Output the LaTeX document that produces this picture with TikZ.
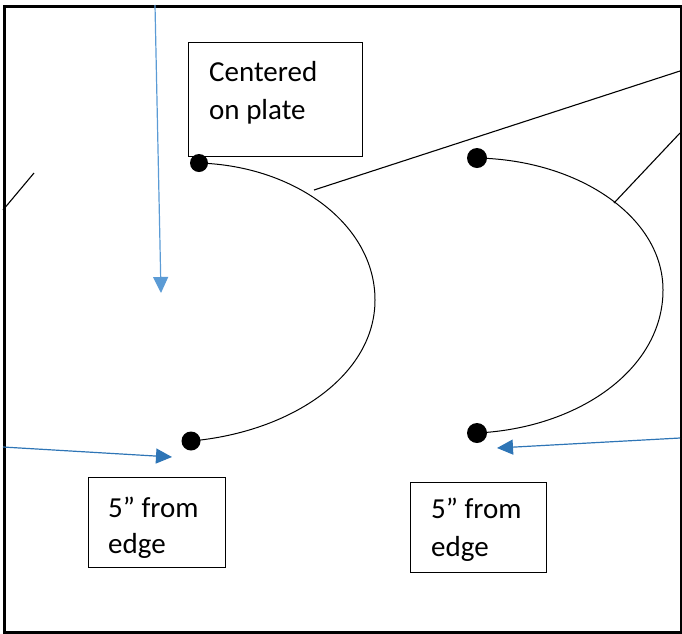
\documentclass[tikz,border=0pt]{standalone}
\usepackage{fontspec}
\setmainfont{Carlito}
\usetikzlibrary{arrows.meta}
\definecolor{lblue}{HTML}{5B9BD5}
\definecolor{dblue}{HTML}{2E75B6}
\begin{document}
\begin{tikzpicture}[x=1pt,y=-1pt,
  box/.style={draw, line width=1pt, anchor=north west, inner sep=0pt},
  dot/.style={circle, fill=black, inner sep=0pt},
  lbl/.style={anchor=base west, font=\fontsize{29}{34}\selectfont, inner sep=0pt},
  curve/.style={line width=1pt},
  thinline/.style={line width=1.1pt},
  blu/.style={line width=1.2pt, -{Triangle[length=16pt,width=15pt]}}]
\useasboundingbox (0,0) rectangle (682,633);
\node[draw, line width=2.5pt, minimum width=677pt, minimum height=626pt, anchor=north west, inner sep=0pt] (frame) at (3,5) {};
% boxes
\node[box, minimum width=174pt, minimum height=114pt] (box1) at (188,42) {};
\node[box, minimum width=137pt, minimum height=90pt] (box2) at (88,477) {};
\node[box, minimum width=136pt, minimum height=90pt] (box3) at (410,482) {};
% texts
\node[lbl] (t1a) at (209,81) {Centered};
\node[lbl] (t1b) at (209,119) {on plate};
\node[lbl] (t2a) at (108,517) {5” from};
\begin{scope}
\clip (90,530) rectangle (223,557);
\node[lbl] (t2b) at (108,553) {edge};
\end{scope}
\node[lbl] (t3a) at (431,518) {5” from};
\begin{scope}
\clip (412,535) rectangle (544,561);
\node[lbl] (t3b) at (431,556) {edge};
\end{scope}
% dots
\node[dot, minimum size=18pt] (d1) at (199,163) {};
\node[dot, minimum size=19pt] (d2) at (191,441) {};
\node[dot, minimum size=20pt] (d3) at (477,158) {};
\node[dot, minimum size=20pt] (d4) at (477,433) {};
% curves
\coordinate (c1) at (375,300);
\coordinate (c2) at (663,290);
\draw[curve] (d1.center) .. controls (296,166) and (375,225) .. (c1) .. controls (375,375) and (292,432) .. (d2.center);
\draw[curve] (d3.center) .. controls (579,160) and (663,217) .. (c2) .. controls (663,369) and (579,428) .. (d4.center);
% black lines
\coordinate (l1s) at (314,190);
\coordinate (l1e) at (680,71);
\coordinate (l2s) at (614,203);
\coordinate (l2e) at (680,133);
\coordinate (l3s) at (34,173);
\coordinate (l3e) at (3,210);
\draw[thinline] (l1s) -- (l1e);
\draw[thinline] (l2s) -- (l2e);
\draw[thinline] (l3s) -- (l3e);
% blue arrows
\coordinate (a1s) at (155,5);
\coordinate (a1e) at (161,293);
\coordinate (a2s) at (3,447);
\coordinate (a2e) at (172,457);
\coordinate (a3s) at (680,438);
\coordinate (a3e) at (497,448);
\draw[blu, lblue] (a1s) -- (a1e);
\draw[blu, dblue] (a2s) -- (a2e);
\draw[blu, dblue] (a3s) -- (a3e);
\end{tikzpicture}
\end{document}
